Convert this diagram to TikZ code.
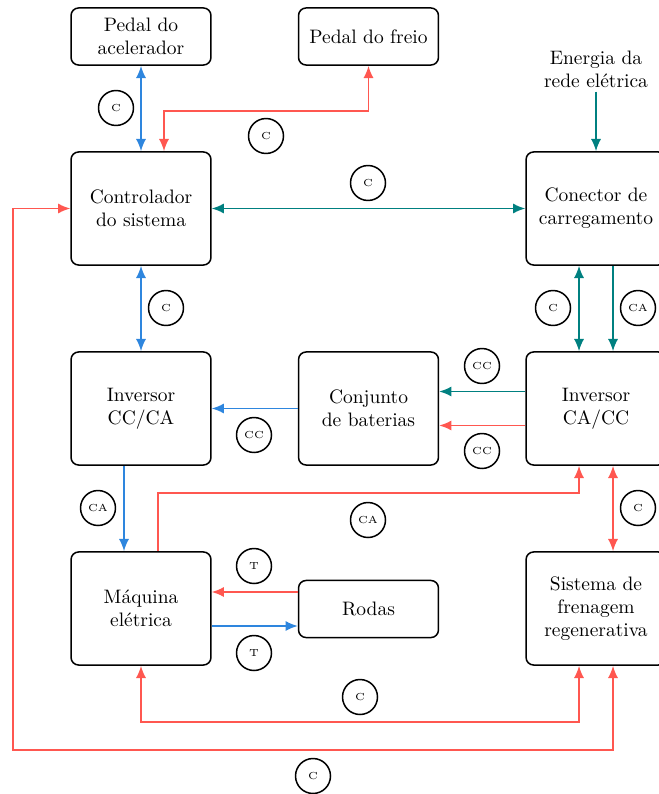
\documentclass[tikz,border=0pt]{standalone}
\usetikzlibrary{arrows.meta,calc}
\definecolor{cblue}{RGB}{46,134,222}
\definecolor{cred}{RGB}{255,87,80}
\definecolor{cteal}{RGB}{0,128,128}
\begin{document}
\begin{tikzpicture}[x=0.529pt,y=-0.529pt,
  every node/.style={font=\fontsize{10.3}{12.3}\selectfont},
  block/.style={draw,thick,rounded corners=4pt,minimum width=74pt,minimum height=59.8pt,align=center,inner sep=0pt},
  smallblock/.style={block,minimum height=30.2pt},
  tag/.style={draw,thick,circle,minimum size=18.5pt,inner sep=0pt,font=\fontsize{5.4}{6}\selectfont},
  tip/.tip={Latex[length=6.5pt,width=5.4pt]},
  link/.style={line width=0.9pt,line join=miter},
  bl/.style={link,draw=cblue,-tip},
  rl/.style={link,draw=cred,-tip},
  tl/.style={link,draw=cteal,-tip},
  both/.style={tip-tip}]
\useasboundingbox (0,0) rectangle (659,794);

% blocks
\node[smallblock] (acel) at (141,36.5) {Pedal do\\acelerador};
\node[smallblock] (freio) at (368.5,36.5) {Pedal do freio};
\node[block] (ctrl) at (141,208.5) {Controlador\\do sistema};
\node[block] (con) at (596,208.5) {Conector de\\carregamento};
\node[block] (invcc) at (141,408.5) {Inversor\\CC/CA};
\node[block] (bat) at (368.5,408.5) {Conjunto\\de baterias};
\node[block] (invca) at (596,408.5) {Inversor\\CA/CC};
\node[block] (maq) at (141,608.5) {Máquina\\elétrica};
\node[smallblock] (rodas) at (368.5,609) {Rodas};
\node[block] (freg) at (596,608.5) {Sistema de\\frenagem\\regenerativa};
\node[align=center,inner sep=2pt] (rede) at (596,69) {Energia da\\rede elétrica};

% corner points of the long loops
\coordinate (k1) at (164,111);
\coordinate (k2) at (158,493);
\coordinate (k3) at (141,722);
\coordinate (k4) at (13,750);

% connectors
\draw[bl,both] (acel.south) -- (ctrl.north);
\draw[rl,both] ($(ctrl.north)+(23,0)$) -- (k1) -| (freio.south);
\draw[tl,both] (ctrl.east) -- (con.west);
\draw[tl] (rede.south) -- (con.north);
\draw[bl,both] (ctrl.south) -- (invcc.north);
\draw[tl,both] ($(con.south)+(-17,0)$) -- ($(invca.north)+(-17,0)$);
\draw[tl] ($(con.south)+(17,0)$) -- ($(invca.north)+(17,0)$);
\draw[tl] ($(invca.west)+(0,-17)$) -- ($(bat.east)+(0,-17)$);
\draw[rl] ($(invca.west)+(0,17)$) -- ($(bat.east)+(0,17)$);
\draw[bl] (bat.west) -- (invcc.east);
\draw[bl] ($(invcc.south)+(-17,0)$) -- ($(maq.north)+(-17,0)$);
\draw[rl] ($(maq.north)+(17,0)$) -- (k2) -| ($(invca.south)+(-17,0)$);
\draw[rl,both] ($(invca.south)+(17,0)$) -- ($(freg.north)+(17,0)$);
\draw[rl] ($(rodas.west)+(0,-17)$) -- ($(maq.east |- rodas.west)+(0,-17)$);
\draw[bl] ($(maq.east |- rodas.west)+(0,17)$) -- ($(rodas.west)+(0,17)$);
\draw[rl,both] (maq.south) -- (k3) -| ($(freg.south)+(-17,0)$);
\draw[rl,both] ($(freg.south)+(17,0)$) |- (k4) |- (ctrl.west);

% signal tags
\node[tag] (t1) at (116,108) {C};
\node[tag] (t2) at (266,136) {C};
\node[tag] (t3) at (368,183) {C};
\node[tag] (t4) at (166,308) {C};
\node[tag] (t5) at (553,308) {C};
\node[tag] (t6) at (638,308) {CA};
\node[tag] (t7) at (482,366) {CC};
\node[tag] (t8) at (482,451) {CC};
\node[tag] (t9) at (254,435) {CC};
\node[tag] (t10) at (98,508) {CA};
\node[tag] (t11) at (368,520) {CA};
\node[tag] (t12) at (638,508) {C};
\node[tag] (t13) at (254,566) {T};
\node[tag] (t14) at (254,653) {T};
\node[tag] (t15) at (360,697) {C};
\node[tag] (t16) at (313,776) {C};
\end{tikzpicture}
\end{document}
